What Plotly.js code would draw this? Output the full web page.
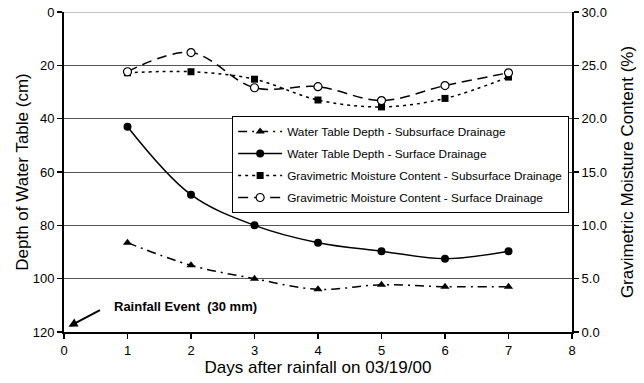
<!DOCTYPE html>
<html>
<head>
<meta charset="utf-8">
<script src="https://cdn.plot.ly/plotly-3.0.1.min.js"></script>
<style>html,body{margin:0;padding:0;background:#fff;}#chart{width:644px;height:383px;}</style>
</head>
<body>
<div id="chart"></div>
<script>
var days = [1, 2, 3, 4, 5, 6, 7];
var wtSubsurface = [86.5, 95, 100, 104, 102.3, 103, 103];
var wtSurface = [43, 68.5, 80, 86.5, 89.7, 92.5, 89.7];
var gmcSubsurface = [24.3, 24.4, 23.7, 21.75, 21.1, 21.9, 23.9];
var gmcSurface = [24.4, 26.2, 22.9, 23.0, 21.7, 23.1, 24.3];
var seriesNames = [
  'Water Table Depth - Subsurface Drainage',
  'Water Table Depth - Surface Drainage',
  'Gravimetric Moisture Content - Subsurface Drainage',
  'Gravimetric Moisture Content - Surface Drainage'
];
var xTicks = [0, 1, 2, 3, 4, 5, 6, 7, 8];
var leftTicks = [0, 20, 40, 60, 80, 100, 120];
var rightTicks = [0, 5, 10, 15, 20, 25, 30];

var FONT = 'Arial, "Liberation Sans", sans-serif';

var traces = [
  {x: days, y: wtSubsurface, name: seriesNames[0], legendgroup: 'a', yaxis: 'y', mode: 'lines+markers',
   line: {color: '#000', width: 1.5, dash: '9px,5px,2px,5px', shape: 'spline', smoothing: 1},
   marker: {symbol: 'triangle-up', size: 8, color: '#000'}},
  {x: days, y: wtSurface, name: seriesNames[1], legendgroup: 'b', yaxis: 'y', mode: 'lines+markers',
   line: {color: '#000', width: 1.5, shape: 'spline', smoothing: 1},
   marker: {symbol: 'circle', size: 8, color: '#000'}},
  {x: days, y: gmcSubsurface, name: seriesNames[2], legendgroup: 'c', yaxis: 'y2', mode: 'lines+markers',
   line: {color: '#000', width: 1.5, dash: '3px,4px', shape: 'spline', smoothing: 1},
   marker: {symbol: 'square', size: 7, color: '#000'}},
  {x: days, y: gmcSurface, name: seriesNames[3], legendgroup: 'd', yaxis: 'y2', mode: 'lines+markers',
   line: {color: '#000', width: 1.5, dash: '10px,6px', shape: 'spline', smoothing: 1},
   marker: {symbol: 'circle', size: 8, color: '#fff', line: {color: '#000', width: 1.2}}}
];

var layout = {
  width: 644, height: 383,
  margin: {l: 64, r: 72, t: 12, b: 51},
  paper_bgcolor: '#fff', plot_bgcolor: '#fff',
  font: {family: FONT, size: 13, color: '#000'},
  showlegend: true,
  legend: {
    x: 0.331, y: 0.675, xanchor: 'left', yanchor: 'top',
    bgcolor: '#fff', bordercolor: '#000', borderwidth: 1,
    font: {family: FONT, size: 11.8, color: '#000'},
    itemwidth: 44, tracegroupgap: 3, traceorder: 'grouped'
  },
  xaxis: {
    range: [0, 8], tickvals: xTicks, ticktext: xTicks.map(String),
    showline: true, linecolor: '#000', linewidth: 2,
    ticks: 'outside', ticklen: 5, tickcolor: '#000', tickwidth: 1.5,
    showgrid: false, zeroline: false,
    tickfont: {family: FONT, size: 13},
    title: {text: 'Days after rainfall on 03/19/00', font: {family: FONT, size: 17}, standoff: 5}
  },
  yaxis: {
    range: [120, 0], tickvals: leftTicks, ticktext: leftTicks.map(String),
    showline: true, linecolor: '#000', linewidth: 2,
    ticks: 'outside', ticklen: 5, tickcolor: '#000', tickwidth: 1.5,
    showgrid: true, gridcolor: '#555', gridwidth: 1, zeroline: false,
    tickfont: {family: FONT, size: 13},
    title: {text: 'Depth of Water Table (cm)', font: {family: FONT, size: 17}, standoff: 0}
  },
  yaxis2: {
    range: [0, 30], tickvals: rightTicks, ticktext: rightTicks.map(function(v){return v.toFixed(1);}),
    overlaying: 'y', side: 'right',
    showline: true, linecolor: '#000', linewidth: 2,
    ticks: 'outside', ticklen: 5, tickcolor: '#000', tickwidth: 1.5,
    showgrid: false, zeroline: false,
    tickfont: {family: FONT, size: 13},
    title: {text: 'Gravimetric Moisture Content (%)', font: {family: FONT, size: 17}, standoff: 15}
  },
  shapes: [
    {type: 'line', xref: 'paper', yref: 'y', x0: 0, x1: 1, y0: 0, y1: 0,
     line: {color: '#888', width: 1}}
  ],
  annotations: [
    {x: 1.92, y: 110.6, xref: 'x', yref: 'y', showarrow: false,
     text: '<b>Rainfall Event\u00a0\u00a0(30 mm)</b>', font: {family: FONT, size: 13, color: '#000'}},
    {x: 0.07, y: 118, xref: 'x', yref: 'y', ax: 0.59, ay: 111.5, axref: 'x', ayref: 'y',
     text: '', showarrow: true, arrowhead: 2, arrowsize: 0.9, arrowwidth: 2, arrowcolor: '#000'}
  ]
};

Plotly.newPlot('chart', traces, layout, {displayModeBar: false, staticPlot: true});
</script>
</body>
</html>
